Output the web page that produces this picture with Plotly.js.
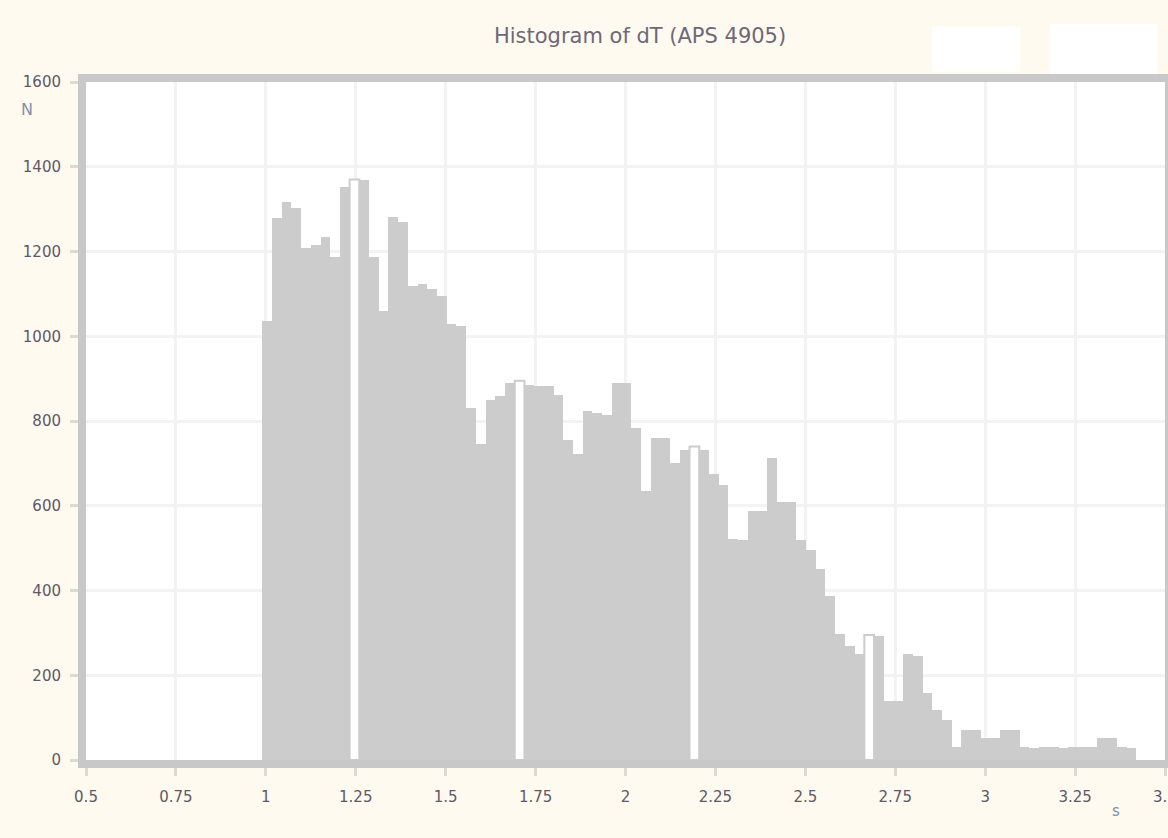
<!DOCTYPE html>
<html>
<head>
<meta charset="utf-8">
<script src="https://cdn.plot.ly/plotly-3.0.1.min.js"></script>
<style>
html,body{margin:0;padding:0;background:#fffaf0;}
#chart{width:1168px;height:838px;}
</style>
</head>
<body>
<div id="chart"></div>
<script>
// Histogram bin definition
const binStart = 0.99;
const binWidth = 0.027;
// Counts per bin
const counts = [
  1036,1280,1318,1303,1209,1216,1235,1188,1352,1370,
  1368,1186,1060,1282,1270,1118,1123,1111,1095,1029,
  1024,830,746,849,860,889,895,885,882,882,
  861,755,723,823,818,814,889,889,784,636,
  760,760,700,732,740,732,674,650,522,519,
  587,587,713,608,608,519,496,451,386,297,
  270,250,295,292,140,140,250,245,157,117,
  94,30,70,70,51,51,70,70,30,28,
  30,30,28,30,30,30,51,51,30,28
];
// Bins drawn hollow (white body) in the reference
const hollowBins = [9, 26, 44, 62];
const xTicks = [0.5,0.75,1,1.25,1.5,1.75,2,2.25,2.5,2.75,3,3.25,3.5];
const xTickLabels = ["0.5","0.75","1","1.25","1.5","1.75","2","2.25","2.5","2.75","3","3.25","3.5"];
const yTicks = [0,200,400,600,800,1000,1200,1400,1600];
const yTickLabels = ["0","200","400","600","800","1000","1200","1400","1600"];
const titleText = "Histogram of dT (APS 4905)";
const yLabel = "N";
const xLabel = "s";

const trace = {
  type: 'bar',
  y: counts,
  x0: binStart + binWidth/2,
  dx: binWidth,
  width: binWidth,
  marker: {color: '#cccccc', line: {width: 0}},
  hoverinfo: 'x+y'
};

// Overlay the hollow bins: same bins, white body with grey edge
const hollowTrace = {
  type: 'bar',
  y: counts.map((c, i) => hollowBins.includes(i) ? c : null),
  x0: binStart + binWidth/2,
  dx: binWidth,
  width: binWidth,
  marker: {color: '#ffffff', line: {width: 2, color: '#cccccc'}},
  hoverinfo: 'skip'
};

const axisCommon = {
  showline: true,
  linecolor: '#c8c8c8',
  linewidth: 8,
  mirror: true,
  showgrid: true,
  gridcolor: '#f3f3f3',
  gridwidth: 3,
  zeroline: false,
  ticks: 'outside',
  ticklen: 8,
  tickwidth: 3,
  tickcolor: '#dcdad2',
  ticklabeloverflow: 'allow',
  tickfont: {family: 'DejaVu Sans, sans-serif', size: 15, color: '#5e5868'}
};

const layout = {
  width: 1168,
  height: 838,
  paper_bgcolor: '#fffaf0',
  plot_bgcolor: '#ffffff',
  margin: {l: 86, r: 3, t: 82, b: 78},
  showlegend: false,
  bargap: 0,
  barmode: 'overlay',
  title: {
    text: titleText,
    x: 0.548, xanchor: 'center',
    y: 0.958, yanchor: 'middle', yref: 'container',
    font: {family: 'DejaVu Sans, sans-serif', size: 21, color: '#6e6878'}
  },
  xaxis: Object.assign({}, axisCommon, {
    range: [0.5, 3.5],
    tickmode: 'array', tickvals: xTicks, ticktext: xTickLabels,
    ticklabelstandoff: 8
  }),
  yaxis: Object.assign({}, axisCommon, {
    range: [0, 1600],
    tickmode: 'array', tickvals: yTicks, ticktext: yTickLabels,
    ticklabelstandoff: 6
  }),
  shapes: [
    {type:'rect', xref:'paper', yref:'paper', x0:0.784, x1:0.866, y0:1.015, y1:1.082,
     fillcolor:'#ffffff', line:{width:0}, layer:'below'},
    {type:'rect', xref:'paper', yref:'paper', x0:0.893, x1:0.993, y0:1.0, y1:1.085,
     fillcolor:'#ffffff', line:{width:0}, layer:'below'}
  ],
  annotations: [
    {text: yLabel, xref:'paper', yref:'paper', x:-0.055, y:0.96, xanchor:'center', yanchor:'middle',
     showarrow:false, font:{family:'DejaVu Sans, sans-serif', size:16, color:'#8090a8'}},
    {text: xLabel, xref:'paper', yref:'paper', x:0.955, y:-0.075, xanchor:'center', yanchor:'middle',
     showarrow:false, font:{family:'DejaVu Sans, sans-serif', size:15, color:'#8090a8'}}
  ]
};

Plotly.newPlot('chart', [trace, hollowTrace], layout, {displayModeBar: false, staticPlot: true});
</script>
</body>
</html>
